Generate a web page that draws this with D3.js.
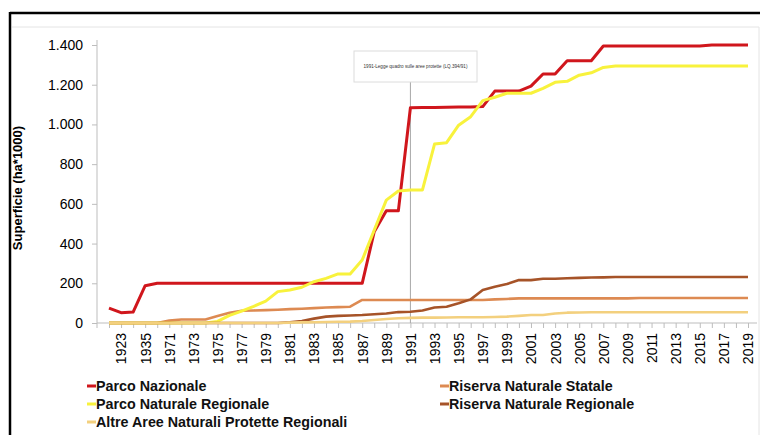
<!DOCTYPE html>
<html>
<head>
<meta charset="utf-8">
<script src="https://cdn.jsdelivr.net/npm/d3@7"></script>
<style>
  html, body { margin: 0; padding: 0; background: #fff; }
  svg { display: block; font-family: "Liberation Sans", Arial, sans-serif; }
</style>
</head>
<body>
<svg id="chart" width="760" height="435"></svg>
<script>
const categories = ["1922","1923","1934","1935","1968","1971","1972","1973","1974","1975","1976","1977","1978","1979","1980","1981","1982","1983","1984","1985","1986","1987","1988","1989","1990","1991","1992","1993","1994","1995","1996","1997","1998","1999","2000","2001","2002","2003","2004","2005","2006","2007","2008","2009","2010","2011","2012","2013","2014","2015","2016","2017","2018","2019"];

const parcoNazionale = [75,52,55,188,200,200,200,200,200,200,200,200,200,200,200,200,200,200,200,200,200,200,460,565,565,1084,1085,1085,1087,1088,1088,1090,1168,1168,1168,1193,1254,1254,1321,1321,1321,1395,1395,1395,1395,1395,1395,1395,1395,1395,1400,1400,1400,1400];
const riservaNaturaleStatale = [0,0,0,0,0,12,18,18,18,35,52,62,63,65,67,70,72,75,78,80,82,116,116,116,116,116,116,116,116,116,116,116,119,121,124,124,124,124,124,124,124,124,124,124,126,126,126,126,126,126,126,126,126,126];
const parcoNaturaleRegionale = [0,0,0,0,0,0,0,0,0,8,38,60,84,110,158,166,180,208,225,247,247,317,468,619,665,670,670,901,908,996,1039,1120,1137,1157,1157,1157,1182,1212,1217,1248,1260,1287,1294,1294,1294,1294,1294,1294,1294,1294,1294,1294,1294,1294];
const riservaNaturaleRegionale = [0,0,0,0,0,0,0,0,0,0,0,0,0,0,0,3,10,22,32,36,38,40,44,48,55,57,63,78,82,99,119,166,183,196,216,216,223,223,225,227,229,230,232,232,232,232,232,232,232,232,232,232,232,232];
const altreAree = [0,0,0,0,0,0,0,0,0,0,0,0,0,0,0,2,3,4,5,6,7,10,15,20,24,26,27,27,28,29,29,29,30,32,36,40,40,48,52,53,54,54,54,54,54,54,54,54,54,54,54,54,54,54];

const seriesNames = ["Parco Nazionale","Riserva Naturale Statale","Parco Naturale Regionale","Riserva Naturale Regionale","Altre Aree Naturali Protette Regionali"];
const seriesValues = [parcoNazionale, riservaNaturaleStatale, parcoNaturaleRegionale, riservaNaturaleRegionale, altreAree];
const seriesColors = ["#d0161c","#dd8a52","#f8f23c","#a65328","#f3d07e"];
const yTicks = [0,200,400,600,800,1000,1200,1400];
const yTitle = "Superficie (ha*1000)";
const annotationYear = "1991";
const annotationText = "1991-Legge quadro sulle aree protette (LQ.394/91)";

const svg = d3.select("#chart");

// frame
svg.append("line").attr("x1",10).attr("x2",760).attr("y1",13).attr("y2",13).attr("stroke","#000").attr("stroke-width",2.5);
svg.append("line").attr("x1",10).attr("x2",10).attr("y1",12).attr("y2",435).attr("stroke","#000").attr("stroke-width",2.5);
svg.append("line").attr("x1",12).attr("x2",759).attr("y1",27).attr("y2",27).attr("stroke","#e4e4e4").attr("stroke-width",1);
svg.append("line").attr("x1",759).attr("x2",759).attr("y1",27).attr("y2",435).attr("stroke","#e4e4e4").attr("stroke-width",1);

const x = d3.scalePoint().domain(categories).range([109, 748]);
const y = d3.scaleLinear().domain([0, 1400]).range([323, 45]);

const it = d3.formatLocale({decimal:",", thousands:".", grouping:[3], currency:["","€"]});
const fmt = it.format(",");

// y axis
const yAxis = svg.append("g").attr("transform","translate(97,0)")
  .call(d3.axisLeft(y).tickValues(yTicks).tickFormat(fmt).tickSize(5).tickPadding(9));
yAxis.select(".domain").attr("stroke","#bdbdbd").attr("d","M0,40V323");
yAxis.selectAll(".tick line").attr("stroke","#bdbdbd");
yAxis.selectAll(".tick text").attr("font-size",14).attr("fill","#000").attr("font-family","Liberation Sans, Arial, sans-serif");

// x axis
const xAxis = svg.append("g").attr("transform","translate(0,323)")
  .call(d3.axisBottom(x).tickSize(5).tickPadding(8).tickFormat((d,i)=> i % 2 === 1 ? d : ""));
xAxis.select(".domain").attr("stroke","#bdbdbd").attr("d","M97,0H757");
xAxis.selectAll(".tick line").attr("stroke","#bdbdbd");
xAxis.append("line").attr("x1",97).attr("x2",97).attr("y1",0).attr("y2",5).attr("stroke","#bdbdbd");
xAxis.selectAll(".tick text")
  .attr("font-size",14).attr("fill","#000").attr("font-family","Liberation Sans, Arial, sans-serif")
  .attr("text-anchor","end")
  .attr("transform","rotate(-90)")
  .attr("x",-10).attr("y",0).attr("dy","0.35em");

// y title
svg.append("text").attr("transform","translate(22,188) rotate(-90)")
  .attr("text-anchor","middle").attr("font-size",13).attr("font-weight","bold").text(yTitle);

// annotation
const ax = x(annotationYear);
svg.append("line").attr("x1",ax).attr("x2",ax).attr("y1",82).attr("y2",323).attr("stroke","#a8a8a8").attr("stroke-width",1);
svg.append("rect").attr("x",354).attr("y",51).attr("width",123).attr("height",31)
  .attr("fill","#fff").attr("stroke","#dcdcdc").attr("stroke-width",1);
svg.append("text").attr("x",415.5).attr("y",68).attr("text-anchor","middle").attr("font-size",4.6).attr("fill","#333").text(annotationText);

// lines
const line = d3.line().x((d,i)=>x(categories[i])).y(d=>y(d));
seriesValues.forEach((vals,k)=>{
  svg.append("path").datum(vals).attr("d",line)
    .attr("fill","none").attr("stroke",seriesColors[k])
    .attr("stroke-width", k===0 || k===2 ? 3 : 2.6)
    .attr("stroke-linejoin","round").attr("stroke-linecap","butt");
});

// legend
const legendPos = [[87,386],[440,386],[87,404],[440,404],[87,422]];
seriesNames.forEach((name,k)=>{
  const [lx,ly] = legendPos[k];
  svg.append("line").attr("x1",lx).attr("x2",lx+9).attr("y1",ly).attr("y2",ly)
    .attr("stroke",seriesColors[k]).attr("stroke-width",3);
  svg.append("text").attr("x",lx+9).attr("y",ly).attr("dy","0.36em")
    .attr("font-size",14.3).attr("font-weight","bold").attr("fill","#111").text(name);
});
</script>
</body>
</html>
